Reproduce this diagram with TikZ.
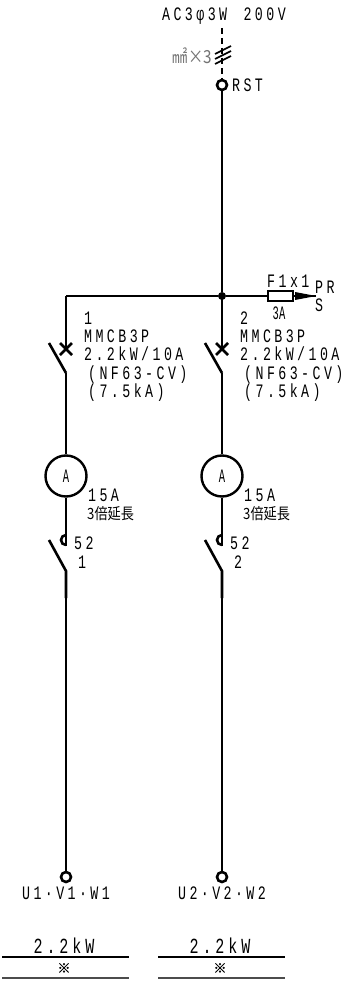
\documentclass[tikz,border=0pt]{standalone}
\usepackage{fontspec}
\setmainfont[FakeStretch=0.7,LetterSpace=18]{Liberation Mono}
\newfontfamily\thinfont[FakeStretch=0.55]{Liberation Mono}
\newfontfamily\cjkfont[FakeStretch=0.85]{Noto Sans CJK JP}
\newfontfamily\markfont[FakeBold=1.5]{Noto Sans CJK JP}
\usetikzlibrary{positioning}
\usetikzlibrary{calc}
\tikzset{
	wire/.style={line width=1.6pt},
	heavy/.style={line width=2.6pt},
	lbl/.style={inner sep=0pt, anchor=west, font=\fontsize{19}{19}\selectfont},
	small/.style={inner sep=0pt, font=\thinfont\fontsize{19}{19}\selectfont},
	term/.style={circle, draw, line width=2.6pt, fill=white, minimum size=10pt, inner sep=0pt},
}
\begin{document}
\begin{tikzpicture}[x=1pt, y=-1pt]
\useasboundingbox (0,0) rectangle (350,984);
\fill[white] (0,0) rectangle (350,984);
% incoming
\node[lbl] (supply) at (162,16) {AC3φ3W\ \kern5pt 200V};
\node[inner sep=0pt, anchor=east, text=black!55, font=\cjkfont\fontsize{18}{18}\selectfont] (size) at (212,56) {㎟×3};
\node[term] (rst) at (222,85) {};
\node[lbl] (rstl) at (232,85) {RST};
\node[circle, fill, inner sep=0pt, minimum size=8pt] (bus) at (222,296) {};
\coordinate (top) at (222,28);
\coordinate (left) at (66,296);
\draw[heavy, dash pattern=on 6pt off 4pt] (top) -- (rst);
\draw[wire] (rst) -- (bus);
\foreach \y in {50, 55, 60} {
	\draw[wire] (215,\y+4) -- (231,\y-4);
	};
% fuse
\node[draw, line width=2pt, minimum width=25pt, minimum height=10pt, inner sep=0pt, fill=white] (fuse) at (280,296) {};
\coordinate (tip) at (316,296);
\draw[heavy] (bus) -- (fuse);
\draw[heavy] (fuse) -- (tip);
\fill (tip) -- (295,292) -- (295,300) -- cycle;
\draw[wire] (bus) -- (left);
\node[lbl] (fuset) at (267,281) {F1x1};
\node[small] (fuser) at (279,313) {3A};
\node[lbl] (pr) at (315,287) {PR};
\node[lbl] (s) at (315,305) {S};
% branches
\foreach \i/\x in {1/66, 2/222} {
	\begin{scope}[xshift=\x]
	\coordinate (a\i) at (0,296);
	\coordinate (b\i) at (0,322);
	\coordinate (c\i) at (0,349);
	\coordinate (d\i) at (0,373);
	\coordinate (e\i) at (0,401);
	\coordinate (f\i) at (-17,343);
	\node[circle, draw, line width=2.4pt, minimum size=41pt, inner sep=0pt] (am\i) at (0,476) {};
	\node[small] (aml\i) at (0,476) {A};
	\coordinate (g\i) at (0,518);
	\coordinate (h\i) at (0,546);
	\coordinate (j\i) at (0,571);
	\coordinate (k\i) at (-17,540);
	\coordinate (l\i) at (0,598);
	\node[term] (out\i) at (0,877) {};
	\draw[wire] (a\i) -- (b\i);
	\draw[heavy] (b\i) -- (c\i) (d\i) -- (e\i);
	\draw[heavy] (f\i) -- (d\i);
	\draw[heavy] (-6,343) -- (6,355) (-6,355) -- (6,343);
	\draw[wire] (e\i) -- (am\i);
	\draw[wire] (am\i) -- (g\i);
	\draw[heavy] (g\i) -- (h\i);
	\draw[heavy] (0,545) arc (90:270:5);
	\draw[heavy] (k\i) -- (j\i) -- (l\i);
	\draw[wire] (l\i) -- (out\i);
	\path (18,318) node[lbl] (no\i) {\i}
		(18,336) node[lbl] (type\i) {MMCB3P}
		(18,354) node[lbl] (rate\i) {2.2kW/10A}
		(22,374.5) node[lbl] (nf\i) {(NF63-CV)}
		(22,393) node[lbl] (ka\i) {(7.5kA)}
		(22,495) node[lbl] (ct\i) {15A}
		(21,514) node[lbl, font=\cjkfont\fontsize{15.5}{15.5}\selectfont] (ext\i) {3倍延長}
		(8,543) node[lbl] (mc\i) {52}
		(12,562) node[lbl] (mcn\i) {\i}
		(0,893) node[lbl, anchor=center] (load\i) {U\i·V\i·W\i}
		(-2,946) node[lbl, anchor=center, font=\fontsize{21.5}{21.5}\selectfont] (kw\i) {2.2kW}
		(-2,968) node[inner sep=0pt, font=\markfont\fontsize{13}{13}\selectfont] (mark\i) {※};
	\coordinate (m\i) at (-64,957);
	\coordinate (n\i) at (63,957);
	\coordinate (o\i) at (-64,978);
	\coordinate (q\i) at (63,978);
	\draw[line width=1.2pt] (m\i) -- (n\i);
	\draw[line width=1.4pt, black!70] (o\i) -- (q\i);
	\end{scope}
	};
\end{tikzpicture}
\end{document}
